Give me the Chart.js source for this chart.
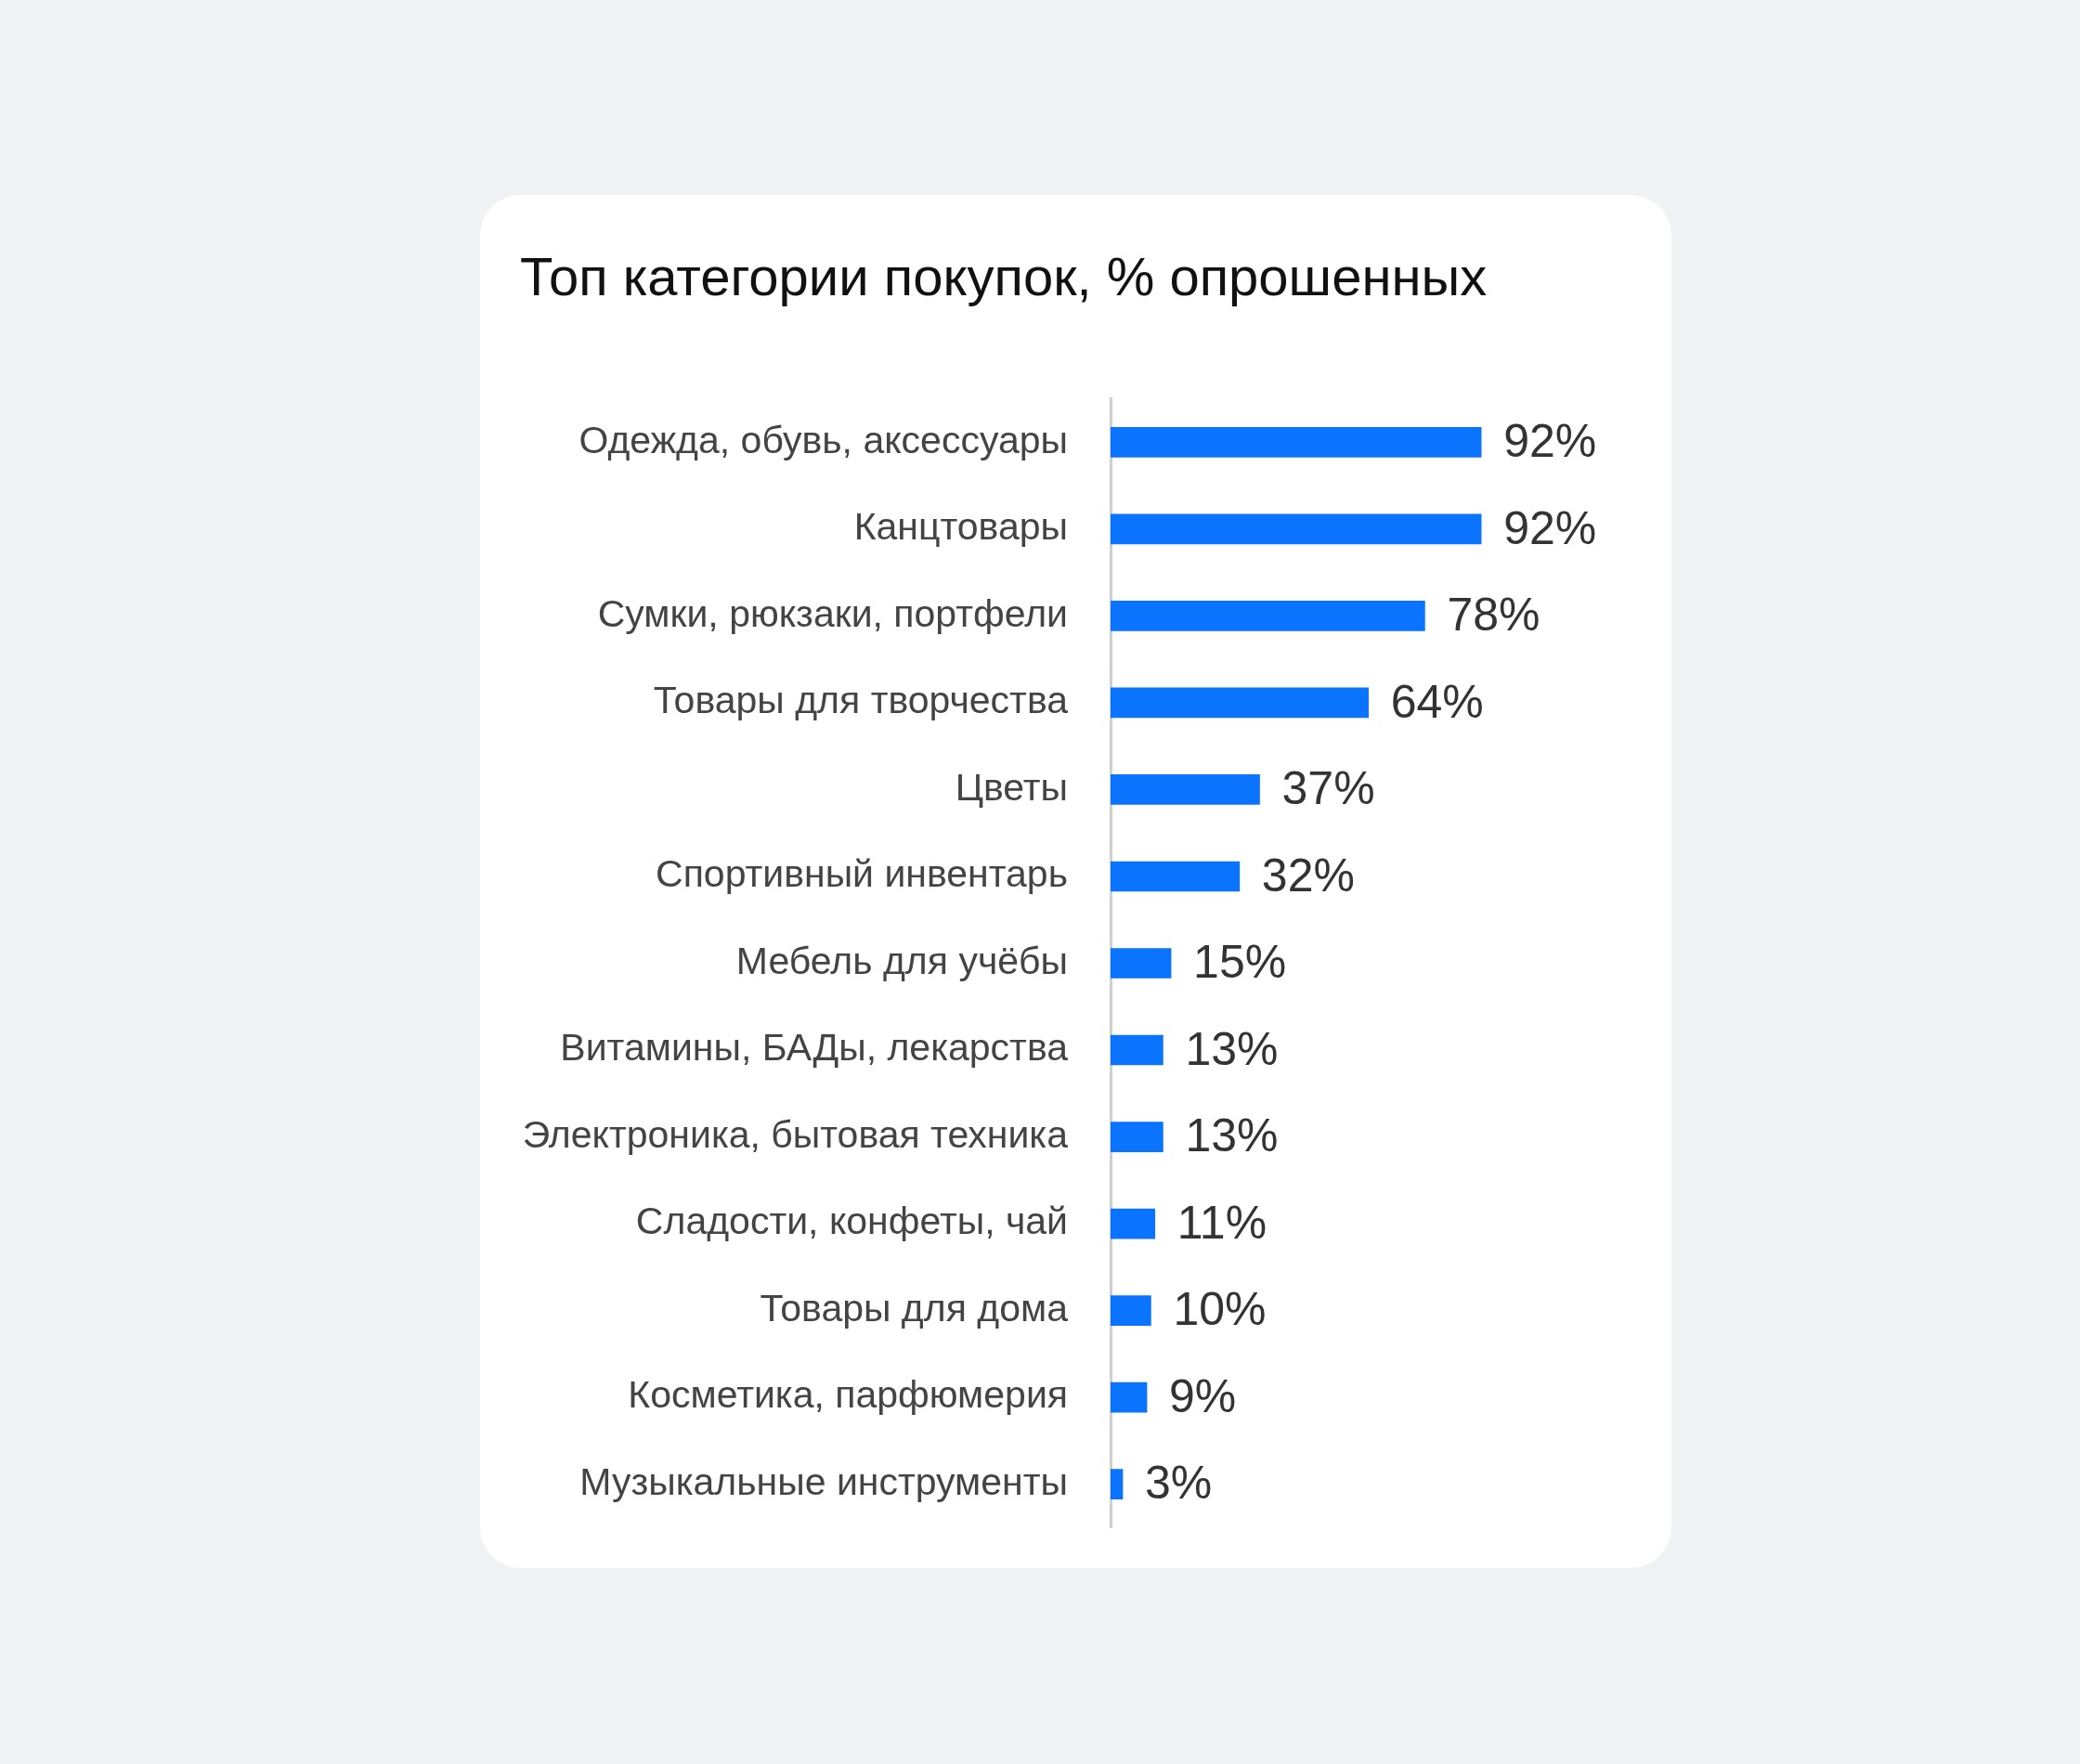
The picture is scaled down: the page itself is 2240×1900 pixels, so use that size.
<!DOCTYPE html>
<html>
<head>
<meta charset="utf-8">
<script src="https://cdn.jsdelivr.net/npm/chart.js@4"></script>
<style>
  html, body { margin: 0; padding: 0; background: #f1f2f4; }
  body { width: 2240px; height: 1900px; position: relative; font-family: 'Liberation Sans', Arial, sans-serif; }
  .card { position: absolute; left: 517px; top: 210px; width: 1283px; height: 1479px; background: #fff; border-radius: 44px; }
  .title { position: absolute; left: 43px; top: 54px; font-size: 58px; color: #111; }
  .wrap { position: absolute; left: 0; top: 157px; width: 1283px; height: 1341px; }
</style>
</head>
<body>
<div class="card">
  <div class="title">Топ категории покупок, % опрошенных</div>
  <div class="wrap"><canvas id="bars"></canvas></div>
</div>
<script>
// данные с картинки
const categories = [
  'Одежда, обувь, аксессуары', 'Канцтовары', 'Сумки, рюкзаки, портфели',
  'Товары для творчества', 'Цветы', 'Спортивный инвентарь', 'Мебель для учёбы',
  'Витамины, БАДы, лекарства', 'Электроника, бытовая техника',
  'Сладости, конфеты, чай', 'Товары для дома', 'Косметика, парфюмерия',
  'Музыкальные инструменты'
];
const shares = [92, 92, 78, 64, 37, 32, 15, 13, 13, 11, 10, 9, 3];

// подписи значений справа от баров
const valueLabels = {
  id: 'valueLabels',
  afterDatasetsDraw(chart) {
    const c = chart.ctx;
    const meta = chart.getDatasetMeta(0);
    c.save();
    c.fillStyle = '#333';
    c.font = "50px 'Liberation Sans', Arial, sans-serif";
    c.textBaseline = 'middle';
    meta.data.forEach((bar, i) => {
      c.fillText(shares[i] + '%', bar.x + 24, bar.y + 2);
    });
    c.restore();
  }
};

new Chart(document.getElementById('bars'), {
  type: 'bar',
  data: {
    labels: categories,
    datasets: [{
      data: shares,
      backgroundColor: '#0a74ff',
      barThickness: 32,
    }]
  },
  options: {
    indexAxis: 'y',
    responsive: true,
    maintainAspectRatio: false,
    animation: false,
    layout: { padding: { right: 40 } },
    plugins: { legend: { display: false }, tooltip: { enabled: false } },
    scales: {
      x: { display: false, min: 0, max: 130 },
      y: {
        grid: { display: false },
        border: { display: true, color: '#cfcfcf', width: 3 },
        afterFit: (s) => { s.width = 679; },
        ticks: {
          padding: 38,
          color: '#444',
          font: { family: "'Liberation Sans', Arial, sans-serif", size: 41 },
        },
      },
    },
  },
  plugins: [valueLabels],
});
</script>
</body>
</html>
